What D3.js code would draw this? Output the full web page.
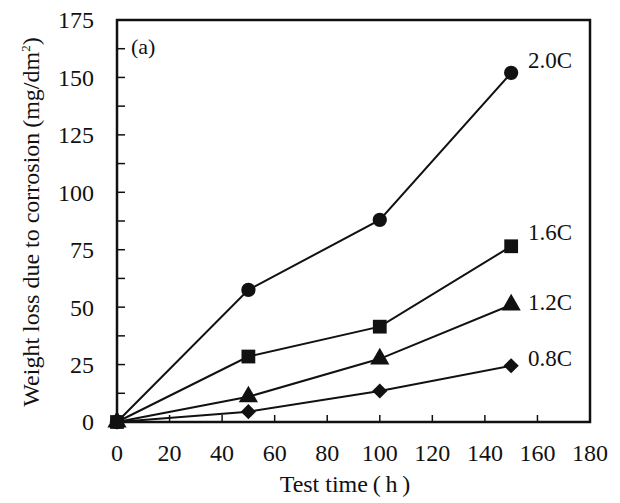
<!DOCTYPE html>
<html>
<head>
<meta charset="utf-8">
<script src="https://cdn.jsdelivr.net/npm/d3@7"></script>
<style>
  body { margin: 0; background: #fff; }
  svg text { font-family: "Liberation Serif", "DejaVu Serif", serif; fill: #111; }
</style>
</head>
<body>
<svg id="chart" width="620" height="503"></svg>
<script>
// data
const hours = [0, 50, 100, 150];
const loss20 = [0, 57.5, 88, 152];
const loss16 = [0, 28.5, 41.5, 76.5];
const loss12 = [0, 11, 27.5, 51];
const loss08 = [0, 4.5, 13.5, 24.5];
const seriesNames = ['2.0C', '1.6C', '1.2C', '0.8C'];
const xTicks = [0, 20, 40, 60, 80, 100, 120, 140, 160, 180];
const yTicks = [0, 25, 50, 75, 100, 125, 150, 175];

const svg = d3.select('#chart');
const plotL = 117, plotR = 590, plotT = 20, plotB = 422;

const x = d3.scaleLinear().domain([0, 180]).range([plotL, plotR]);
const y = d3.scaleLinear().domain([0, 175]).range([plotB, plotT]);

// frame
svg.append('rect')
  .attr('x', plotL).attr('y', plotT)
  .attr('width', plotR - plotL).attr('height', plotB - plotT)
  .attr('fill', 'none').attr('stroke', '#111').attr('stroke-width', 2.5);

// ticks (inside)
const minorY = d3.range(12.5, 175, 25);
svg.append('g').selectAll('line').data(yTicks.concat(minorY)).join('line')
  .attr('x1', plotL).attr('x2', plotL + 8)
  .attr('y1', d => y(d)).attr('y2', d => y(d))
  .attr('stroke', '#111').attr('stroke-width', 1.5);
svg.append('g').selectAll('line').data(xTicks).join('line')
  .attr('x1', d => x(d)).attr('x2', d => x(d))
  .attr('y1', plotB).attr('y2', plotB - 7)
  .attr('stroke', '#111').attr('stroke-width', 1.5);

// tick labels
svg.append('g').selectAll('text').data(yTicks).join('text')
  .attr('x', 94).attr('y', d => y(d))
  .attr('dy', '0.35em').attr('text-anchor', 'end')
  .style('font-size', '24px')
  .text(d => d);
svg.append('g').selectAll('text').data(xTicks).join('text')
  .attr('x', d => x(d)).attr('y', 453)
  .attr('dy', '0.35em').attr('text-anchor', 'middle')
  .style('font-size', '24px')
  .text(d => d);

// axis titles
svg.append('text')
  .attr('x', 345).attr('y', 492).attr('text-anchor', 'middle')
  .style('font-size', '24px')
  .text('Test time\u2009(\u2009h\u2009)');
const yt = svg.append('text')
  .attr('transform', 'translate(39,222) rotate(-90)')
  .attr('text-anchor', 'middle')
  .style('font-size', '24px');
yt.append('tspan').text('Weight loss due to corrosion\u2009(mg/dm');
yt.append('tspan').attr('dy', -9).style('font-size', '13px').text('2');
yt.append('tspan').attr('dy', 9).text(')');

svg.append('text')
  .attr('x', 131).attr('y', 54)
  .style('font-size', '22px')
  .text('(a)');

// series
const series = [
  { name: seriesNames[0], vals: loss20, sym: d3.symbolCircle, size: 160, rot: 0 },
  { name: seriesNames[2], vals: loss12, sym: d3.symbolTriangle, size: 160, rot: 0 },
  { name: seriesNames[3], vals: loss08, sym: d3.symbolSquare, size: 115, rot: 45 },
  { name: seriesNames[1], vals: loss16, sym: d3.symbolSquare, size: 190, rot: 0 }
];
const line = d3.line().x((d, i) => x(hours[i])).y(d => y(d));

series.forEach(s => {
  svg.append('path')
    .attr('d', line(s.vals))
    .attr('fill', 'none').attr('stroke', '#111').attr('stroke-width', 2);
});
series.forEach(s => {
  svg.append('g').selectAll('path').data(s.vals).join('path')
    .attr('transform', (d, i) => `translate(${x(hours[i])},${y(d)}) rotate(${s.rot})`)
    .attr('d', d3.symbol().type(s.sym).size(s.size))
    .attr('fill', '#111');
});

// end labels
const labelY = { '2.0C': 60, '1.6C': 232, '1.2C': 302, '0.8C': 358 };
series.forEach(s => {
  svg.append('text')
    .attr('x', 528).attr('y', labelY[s.name])
    .attr('dy', '0.35em')
    .style('font-size', '23px')
    .text(s.name);
});
</script>
</body>
</html>
